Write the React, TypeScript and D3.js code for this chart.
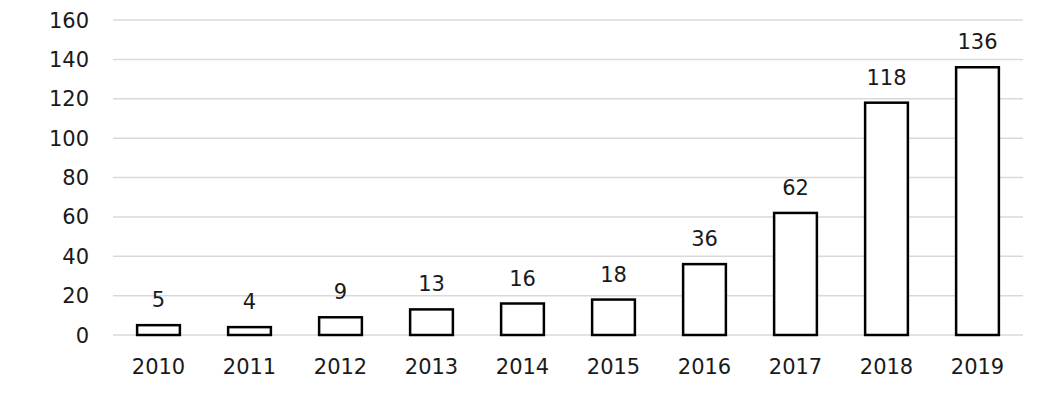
import React from "react";
import * as d3 from "d3";

const years = ["2010", "2011", "2012", "2013", "2014", "2015", "2016", "2017", "2018", "2019"];
const counts = [5, 4, 9, 13, 16, 18, 36, 62, 118, 136];
const yTicks = [0, 20, 40, 60, 80, 100, 120, 140, 160];

const W = 1060;
const H = 394;
const left = 113;
const right = 1023;
const top = 20;
const bottom = 335;
const font = "'DejaVu Sans', sans-serif";

export default function App() {
  const x = d3.scaleBand<string>().domain(years).range([left, right]).paddingInner(0.53).paddingOuter(0.265);
  const y = d3.scaleLinear().domain([0, 160]).range([bottom, top]);
  return (
    <svg width={W} height={H} style={{ position: "absolute", left: 0, top: 0, background: "#fff" }}>
      <rect x={0} y={0} width={W} height={H} fill="#fff" />
      {yTicks.map((t) => (
        <g key={t}>
          <line x1={left} x2={right} y1={y(t)} y2={y(t)} stroke="#d9d9d9" strokeWidth={1.5} />
          <text x={89} y={y(t)} dy="0.36em" textAnchor="end" fontFamily={font} fontSize={21} fill="#1a1a1a">
            {t}
          </text>
        </g>
      ))}
      {years.map((yr, i) => {
        const bx = x(yr)!;
        const bw = x.bandwidth();
        const cx = bx + bw / 2;
        return (
          <g key={yr}>
            <rect x={bx} y={y(counts[i])} width={bw} height={bottom - y(counts[i])} fill="#fff" stroke="#000" strokeWidth={2.5} />
            <text x={cx} y={y(counts[i]) - 18} textAnchor="middle" fontFamily={font} fontSize={21} fill="#1a1a1a">
              {counts[i]}
            </text>
            <text x={cx} y={374} textAnchor="middle" fontFamily={font} fontSize={21} fill="#1a1a1a">
              {yr}
            </text>
          </g>
        );
      })}
    </svg>
  );
}
